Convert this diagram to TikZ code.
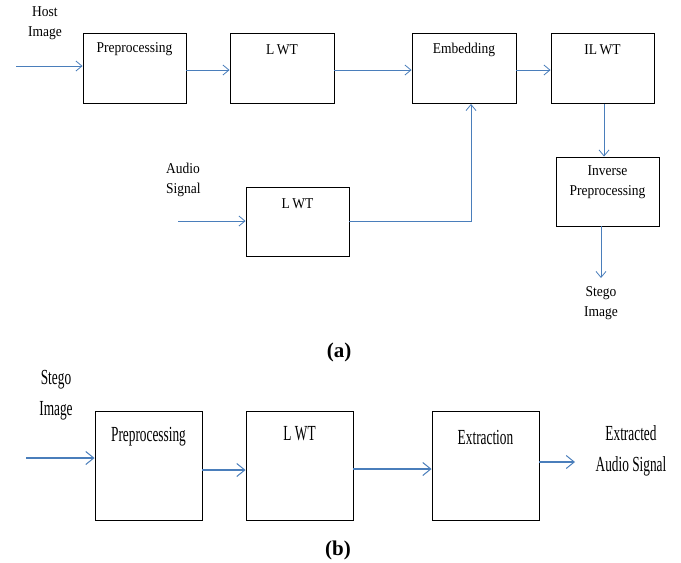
\documentclass[tikz,border=0pt]{standalone}
\usepackage{fontspec}
\setmainfont{Liberation Serif}
\newfontfamily\condfont[FakeStretch=0.62]{Liberation Serif}
\newfontfamily\smallcond[FakeStretch=0.9]{Liberation Serif}
\usetikzlibrary{arrows.meta}
\definecolor{lineblue}{HTML}{4A7EBB}
\tikzset{
  box/.style={draw=black, line width=0.9pt, minimum width=103pt, minimum height=70pt, inner sep=0pt},
  bigbox/.style={draw=black, line width=0.9pt, minimum width=107pt, minimum height=109pt, inner sep=0pt},
  txt/.style={font=\smallcond\fontsize{15}{20}\selectfont, inner sep=0pt, align=center},
  bigtxt/.style={font=\condfont\fontsize{21.5}{31}\selectfont, inner sep=0pt, align=center},
  conn/.style={draw=lineblue, line width=0.8pt, -{Straight Barb[length=6pt,width=10pt,line width=0.8pt]}},
  bigconn/.style={draw=lineblue, line width=1.1pt, -{Straight Barb[length=8pt,width=13pt,line width=1pt]}},
  figcap/.style={font=\bfseries\fontsize{21}{24}\selectfont, inner sep=0pt}
}
\begin{document}
\begin{tikzpicture}[x=1pt,y=-1pt]
\useasboundingbox (0,0) rectangle (681,563);
% ---------- (a) ----------
\node[box] (pre1) at (134.5,68.5) {};
\node[box, minimum width=104pt] (lwt1) at (282,68.5) {};
\node[box, minimum width=104pt] (emb) at (464,68.5) {};
\node[box] (ilwt) at (602.5,68.5) {};
\node[box, minimum height=69pt] (alwt) at (297.5,221.5) {};
\node[box, minimum height=69pt] (inv) at (607.5,191.5) {};

\node[txt] (tpre1) at (134.5,49.5) {Preprocessing};
\node[txt] (tlwt1) at (282,49.5) {L\,WT};
\node[txt] (temb) at (464,49.5) {Embedding};
\node[txt] (tilwt) at (602.5,49.5) {IL\,WT};
\node[txt] (talwt) at (297.5,203.5) {L\,WT};
\node[txt] (tinv) at (607.5,182) {Inverse\\Preprocessing};

\node[txt] (host) at (45,23) {Host\\Image};
\node[txt, align=left, anchor=west] (audio) at (166,180) {Audio\\Signal};
\node[txt] (stego1) at (601,303) {Stego\\Image};

\coordinate (in1) at (16,66);
\coordinate (in2) at (178,221);
\coordinate (c1) at (471,221);
\coordinate (out1) at (601,278);

\draw[conn] (in1) -- (in1 -| pre1.west);
\draw[conn] ([yshift=-1.5pt]pre1.east) -- ([yshift=-1.5pt]lwt1.west);
\draw[conn] ([yshift=-1.5pt]lwt1.east) -- ([yshift=-1.5pt]emb.west);
\draw[conn] ([yshift=-1.5pt]emb.east) -- ([yshift=-1.5pt]ilwt.west);
\draw[conn] (in2) -- (in2 -| alwt.west);
\draw[conn] (alwt.east |- c1) -- (c1) -- (c1 |- emb.south);
\draw[conn] ([xshift=1.5pt]ilwt.south) -- ([xshift=1.5pt]ilwt.south |- inv.north);
\draw[conn] (out1 |- inv.south) -- (out1);

\node[figcap] (capa) at (339,352) {(a)};

% ---------- (b) ----------
\node[bigbox] (pre2) at (148.5,465.5) {};
\node[bigbox] (lwt2) at (299.5,465.5) {};
\node[bigbox] (ext) at (485.5,465.5) {};

\node[bigtxt] (tpre2) at (148.5,437) {Preprocessing};
\node[bigtxt] (tlwt2) at (299.5,434) {L\,WT};
\node[bigtxt] (text2) at (485.5,437) {Extraction};

\node[bigtxt] (stego2) at (56,395) {Stego\\Image};
\node[bigtxt] (extr) at (631,451) {Extracted\\Audio Signal};

\coordinate (in3) at (26,458);
\coordinate (out2) at (575,462);

\draw[bigconn] (in3) -- (in3 -| pre2.west);
\draw[bigconn] ([yshift=-4.5pt]pre2.east) -- ([yshift=-4.5pt]lwt2.west);
\draw[bigconn] ([yshift=-3.5pt]lwt2.east) -- ([yshift=-3.5pt]ext.west);
\draw[bigconn] (ext.east |- out2) -- (out2);

\node[figcap] (capb) at (338,550) {(b)};
\end{tikzpicture}
\end{document}
